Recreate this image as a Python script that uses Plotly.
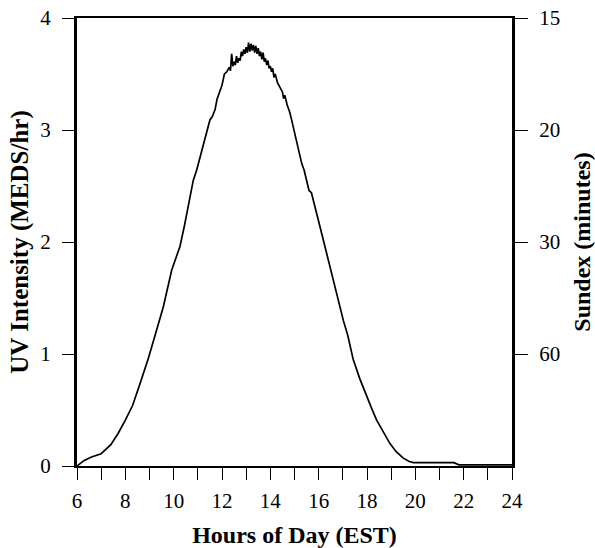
import plotly.graph_objects as go

hours = [6.0, 6.3, 6.6, 7.0, 7.4, 7.7, 8.0, 8.3, 8.6, 8.95, 9.25, 9.57, 9.92, 10.1, 10.26,
         10.45, 10.61, 10.75, 10.81, 10.95, 11.05, 11.16, 11.3, 11.4, 11.5, 11.6, 11.71,
         11.8, 11.9, 12.0, 12.05, 12.1, 12.2, 12.3, 12.35, 12.4, 12.45, 12.5, 12.55, 12.6,
         12.65, 12.7, 12.75, 12.8, 12.85, 12.9, 12.95, 13.0, 13.05, 13.1, 13.15, 13.2,
         13.25, 13.3, 13.35, 13.4, 13.45, 13.5, 13.55, 13.6, 13.65, 13.7, 13.75, 13.8,
         13.85, 13.9, 13.95, 14.0, 14.05, 14.1, 14.15, 14.2, 14.3, 14.4, 14.5, 14.55,
         14.6, 14.7, 14.8, 14.88, 15.0, 15.05, 15.16, 15.3, 15.4, 15.5, 15.6, 15.7, 15.85,
         16.05, 16.26, 16.45, 16.61, 16.8, 17.02, 17.2, 17.43, 17.7, 17.98, 18.2, 18.4,
         18.7, 18.95, 19.2, 19.5, 19.75, 19.92, 20.5, 21.0, 21.6, 21.8, 22.5, 23.0, 24.0]
uv = [0.00, 0.05, 0.08, 0.11, 0.19, 0.29, 0.41, 0.54, 0.73, 0.96, 1.18, 1.42, 1.75, 1.86, 1.96,
      2.15, 2.32, 2.50, 2.55, 2.64, 2.72, 2.81, 2.92, 3.00, 3.09, 3.12, 3.18,
      3.28, 3.34, 3.40, 3.45, 3.50, 3.52, 3.56, 3.53, 3.68, 3.57, 3.61, 3.58, 3.66,
      3.60, 3.64, 3.62, 3.70, 3.66, 3.72, 3.68, 3.74, 3.69, 3.78, 3.70, 3.77,
      3.71, 3.76, 3.69, 3.75, 3.68, 3.73, 3.66, 3.70, 3.63, 3.69, 3.61, 3.64,
      3.58, 3.62, 3.55, 3.57, 3.52, 3.55, 3.47, 3.50, 3.42, 3.38, 3.34, 3.28,
      3.31, 3.22, 3.16, 3.09, 2.98, 2.92, 2.82, 2.70, 2.64, 2.55, 2.46, 2.44, 2.32,
      2.14, 1.96, 1.80, 1.66, 1.48, 1.30, 1.17, 0.95, 0.78, 0.62, 0.51, 0.41,
      0.29, 0.20, 0.13, 0.07, 0.04, 0.03, 0.03, 0.03, 0.03, 0.01, 0.01, 0.01, 0.01]

x_tickvals = list(range(6, 25))
x_ticktext = [str(h) if h % 2 == 0 else "" for h in x_tickvals]
uv_ticks = [0, 1, 2, 3, 4]
sundex_tickvals = [1, 2, 3, 4]
sundex_ticktext = ["60", "30", "20", "15"]

FONT = "Liberation Serif"

fig = go.Figure()
fig.add_trace(go.Scatter(x=hours, y=uv, mode="lines",
                         line=dict(color="black", width=1.7), showlegend=False,
                         hoverinfo="skip"))
# invisible trace for right axis
fig.add_trace(go.Scatter(x=[6, 24], y=[0, 4], yaxis="y2", mode="lines",
                         line=dict(color="rgba(0,0,0,0)"), showlegend=False,
                         hoverinfo="skip"))

fig.update_layout(
    width=595, height=548,
    margin=dict(l=77, r=83, t=18, b=82),
    paper_bgcolor="white", plot_bgcolor="white",
    font=dict(family=FONT, color="black", size=21),
    xaxis=dict(range=[6, 24], tickvals=x_tickvals, ticktext=x_ticktext,
               ticks="outside", ticklen=12, tickwidth=1, tickcolor="black",
               ticklabelstandoff=3,
               showline=True, linecolor="black", linewidth=2, mirror=True,
               showgrid=False, zeroline=False, automargin=False,
               tickfont=dict(size=21, family=FONT),
               title=dict(text="<b>Hours of Day (EST)</b>", font=dict(size=24, family=FONT),
                          standoff=17)),
    yaxis=dict(range=[0, 4], tickvals=uv_ticks,
               ticks="outside", ticklen=12, tickwidth=1, tickcolor="black",
               ticklabelstandoff=7,
               showline=True, linecolor="black", linewidth=3,
               showgrid=False, zeroline=False, automargin=False,
               tickfont=dict(size=21, family=FONT),
               title=dict(text="<b>UV Intensity (MEDS/hr)</b>", font=dict(size=25, family=FONT),
                          standoff=5)),
    yaxis2=dict(range=[0, 4], overlaying="y", side="right",
                tickvals=sundex_tickvals, ticktext=sundex_ticktext,
                ticks="outside", ticklen=13, tickwidth=1, tickcolor="black",
                ticklabelstandoff=7,
                showline=True, linecolor="black", linewidth=3,
                showgrid=False, zeroline=False, automargin=False,
                tickfont=dict(size=21, family=FONT),
                title=dict(text="<b>Sundex (minutes)</b>", font=dict(size=24, family=FONT),
                           standoff=14)),
)

# remove the browser's default 8px page margin so the figure sits at the window origin
fig.write_html("out.html", config={"displayModeBar": False},
               post_script="document.body.style.margin='0';")
